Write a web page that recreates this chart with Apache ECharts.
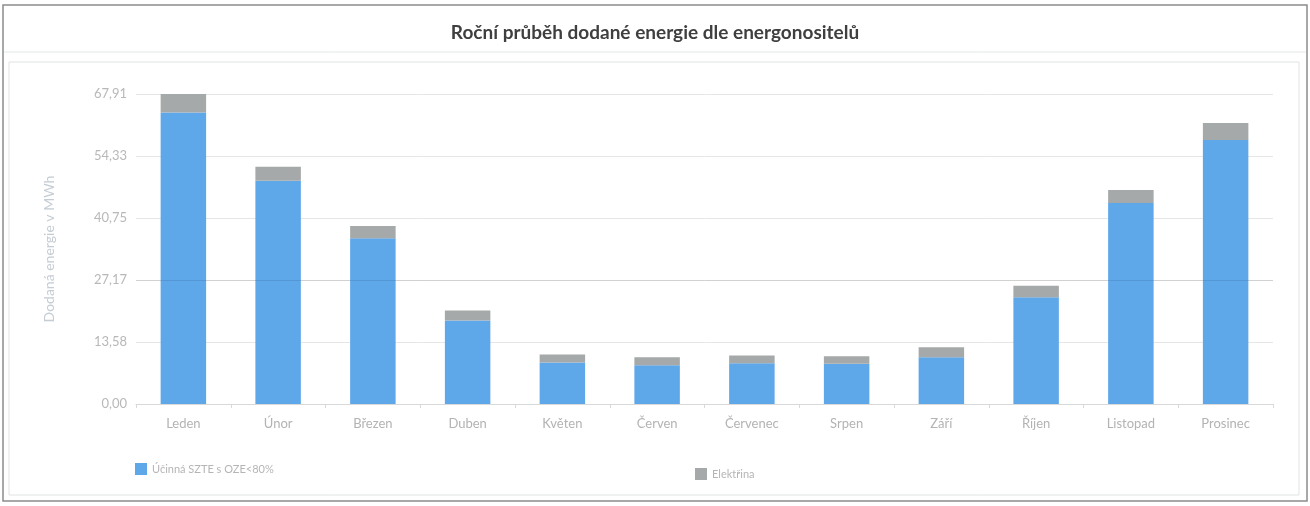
<!DOCTYPE html>
<html>
<head>
<meta charset="utf-8">
<script src="https://cdn.jsdelivr.net/npm/echarts@6/dist/echarts.min.js"></script>
<style>
html,body{margin:0;padding:0;background:#ffffff;}
#c{width:1310px;height:506px;}
</style>
</head>
<body>
<div id="c"></div>
<script>
const titleText = 'Roční průběh dodané energie dle energonositelů';
const yAxisName = 'Dodaná energie v MWh';
const categories = ['Leden','Únor','Březen','Duben','Květen','Červen','Červenec','Srpen','Září','Říjen','Listopad','Prosinec'];
const seriesNames = ['Účinná SZTE s OZE<80%','Elektřina'];
const szteValues = [63.85, 48.9, 36.3, 18.27, 9.08, 8.49, 8.93, 8.8, 10.24, 23.37, 44.03, 57.81];
const elektrinaValues = [4.06, 3.1, 2.7, 2.19, 1.75, 1.75, 1.67, 1.66, 2.19, 2.56, 2.84, 3.72];
const yTickLabels = ['0,00','13,58','27,17','40,75','54,33','67,91'];
const yMax = 67.91;
const yInterval = yMax / 5;

const chart = echarts.init(document.getElementById('c'));
const font = 'Lato, "Open Sans", sans-serif';
chart.setOption({
  backgroundColor: '#ffffff',
  animation: false,
  textStyle: {fontFamily: font},
  title: {
    text: titleText, left: 'center', top: 18,
    textStyle: {fontFamily: font, fontSize: 19, fontWeight: 'bold', color: '#3f3f3f'}
  },
  graphic: [
    {type: 'rect', shape: {x: 3, y: 5, width: 1304, height: 496}, style: {fill: 'none', stroke: '#8c8c8c', lineWidth: 1.5}, silent: true},
    {type: 'line', shape: {x1: 4, y1: 52, x2: 1306, y2: 52}, style: {stroke: '#e4e8e8', lineWidth: 1}, silent: true},
    {type: 'rect', shape: {x: 9, y: 62, width: 1290, height: 433}, style: {fill: 'none', stroke: '#e0e2e2', lineWidth: 1}, silent: true}
  ],
  legend: [
    {data: [seriesNames[0]], left: 130, top: 458, itemWidth: 12, itemHeight: 12, icon: 'rect',
     textStyle: {fontFamily: font, fontSize: 11, color: '#b5b5b5'}},
    {data: [seriesNames[1]], left: 690, top: 463, itemWidth: 12, itemHeight: 12, icon: 'rect',
     textStyle: {fontFamily: font, fontSize: 11, color: '#b5b5b5'}}
  ],
  grid: {left: 136, right: 37, top: 94, height: 310, containLabel: false},
  xAxis: {
    type: 'category', data: categories,
    axisLine: {lineStyle: {color: '#d9d9d9'}},
    axisTick: {show: true, length: 4, lineStyle: {color: '#d9d9d9'}},
    axisLabel: {color: '#b3b3b3', fontSize: 13, margin: 13, fontFamily: font}
  },
  yAxis: {
    type: 'value', min: 0, max: yMax, interval: yInterval,
    name: yAxisName, nameLocation: 'middle', nameGap: 80, nameRotate: 90,
    nameTextStyle: {color: '#c5ccd3', fontSize: 14, fontFamily: font},
    axisLine: {show: false}, axisTick: {show: false},
    splitLine: {lineStyle: {color: '#e6e6e6', width: 1}},
    axisLabel: {
      color: '#b8b8b8', fontSize: 13, margin: 9, fontFamily: font,
      formatter: function (v) { return yTickLabels[Math.round(v / yInterval)] || ''; }
    }
  },
  series: [
    {name: seriesNames[0], type: 'bar', stack: 'total', data: szteValues, barWidth: '48%',
     itemStyle: {color: '#5ea7e9'},
     markLine: {silent: true, symbol: 'none', label: {show: false},
       lineStyle: {color: 'rgba(0,0,0,0.09)', type: 'solid', width: 1},
       data: [{yAxis: yInterval * 2}]}},
    {name: seriesNames[1], type: 'bar', stack: 'total', data: elektrinaValues, barWidth: '48%',
     itemStyle: {color: '#a6a9a9'}}
  ]
});
</script>
</body>
</html>
